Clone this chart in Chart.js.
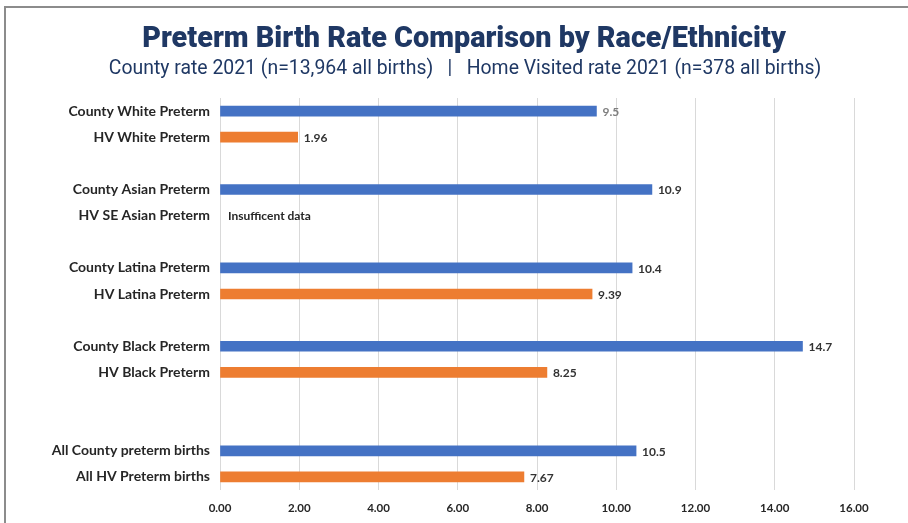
<!DOCTYPE html>
<html>
<head>
<meta charset="utf-8">
<script src="https://cdn.jsdelivr.net/npm/chart.js@4/dist/chart.umd.min.js"></script>
<style>
  html, body { margin: 0; padding: 0; background: #fff; }
  #wrap { position: relative; width: 908px; height: 523px; }
  #frame { position: absolute; left: 4px; top: 6px; right: 0; bottom: 0;
           border-top: 2px solid #8c8c8c; border-left: 2px solid #8c8c8c; }
  canvas { position: absolute; left: 0; top: 0; }
</style>
</head>
<body>
<div id="wrap">
  <div id="frame"></div>
  <canvas id="chart" width="908" height="523"></canvas>
</div>
<script>
// row labels, blank ones are the gaps between groups
var categories = [
  'County White Preterm', 'HV White Preterm', '',
  'County Asian Preterm', 'HV SE Asian Preterm', '',
  'County Latina Preterm', 'HV Latina Preterm', '',
  'County Black Preterm', 'HV Black Preterm', '', '',
  'All County preterm births', 'All HV Preterm births'
];
var countyRates = [9.5, null, null, 10.9, null, null, 10.4, null, null, 14.7, null, null, null, 10.5, null];
var hvRates     = [null, 1.96, null, null, null, null, null, 9.39, null, null, 8.25, null, null, null, 7.67];
var xTicks = [0, 2, 4, 6, 8, 10, 12, 14, 16];
var missingNote = 'Insufficent data';
var titleText = 'Preterm Birth Rate Comparison by Race/Ethnicity';
var subtitleText = 'County rate 2021 (n=13,964 all births)   |   Home Visited rate 2021 (n=378 all births)';

var navy = '#1f3864';
var labelFont = 'Lato, "Liberation Sans", sans-serif';

// title drawn by hand so it can sit centred on the whole frame, not the padded box
var header = {
  id: 'header',
  afterDraw: function(chart) {
    var ctx = chart.ctx;
    ctx.save();
    ctx.textAlign = 'center';
    ctx.textBaseline = 'middle';
    ctx.fillStyle = navy;
    ctx.font = '900 28.8px Roboto, sans-serif';
    ctx.fillText(titleText, 464, 40);
    ctx.font = '400 19.4px Roboto, sans-serif';
    ctx.fillText(subtitleText, 465, 69);
    ctx.restore();
  }
};

// draws the value next to each bar (no datalabels plugin here)
var valueLabels = {
  id: 'valueLabels',
  afterDatasetsDraw: function(chart) {
    var ctx = chart.ctx;
    ctx.save();
    ctx.font = 'bold 12px ' + labelFont;
    ctx.textBaseline = 'middle';
    ctx.textAlign = 'left';
    chart.data.datasets.forEach(function(ds, di) {
      var meta = chart.getDatasetMeta(di);
      meta.data.forEach(function(bar, i) {
        var v = ds.data[i];
        if (v === null) return;
        ctx.fillStyle = (i === 0) ? '#7f7f7f' : '#333333';
        ctx.fillText(String(v), bar.x + 6, bar.y + 1);
      });
    });
    // rows that have a name but no value
    var xs = chart.scales.x, ys = chart.scales.y;
    categories.forEach(function(c, i) {
      if (c && countyRates[i] === null && hvRates[i] === null) {
        ctx.fillStyle = '#262626';
        ctx.fillText(missingNote, xs.getPixelForValue(0) + 8, ys.getPixelForValue(i) + 1);
      }
    });
    ctx.restore();
  }
};

new Chart(document.getElementById('chart'), {
  type: 'bar',
  data: {
    labels: categories,
    datasets: [
      { label: 'County', data: countyRates, backgroundColor: '#4472c4', barThickness: 10 },
      { label: 'Home Visited', data: hvRates, backgroundColor: '#ed7d31', barThickness: 10 }
    ]
  },
  options: {
    indexAxis: 'y',
    responsive: false,
    animation: false,
    layout: { padding: { left: 5, right: 54, top: 98, bottom: 0 } },
    plugins: {
      legend: { display: false },
      tooltip: { enabled: false }
    },
    scales: {
      x: {
        stacked: true,
        min: 0, max: 16,
        afterBuildTicks: function(s) { s.ticks = xTicks.map(function(v) { return { value: v }; }); },
        afterFit: function(s) { s.height = 33; },
        grid: { color: '#d9d9d9', lineWidth: 1, drawTicks: false },
        border: { display: false },
        ticks: {
          padding: 11,
          color: '#262626',
          maxRotation: 0,
          font: { family: labelFont, size: 11.5, weight: 'bold' },
          callback: function(v) { return Number(v).toFixed(2); }
        }
      },
      y: {
        stacked: true,
        grid: { display: false, drawTicks: false },
        border: { display: false },
        afterFit: function(s) { s.width = 215; },
        ticks: {
          padding: 10,
          color: '#262626',
          autoSkip: false,
          font: { family: labelFont, size: 14, weight: 'bold' }
        }
      }
    }
  },
  plugins: [valueLabels, header]
});
</script>
</body>
</html>
